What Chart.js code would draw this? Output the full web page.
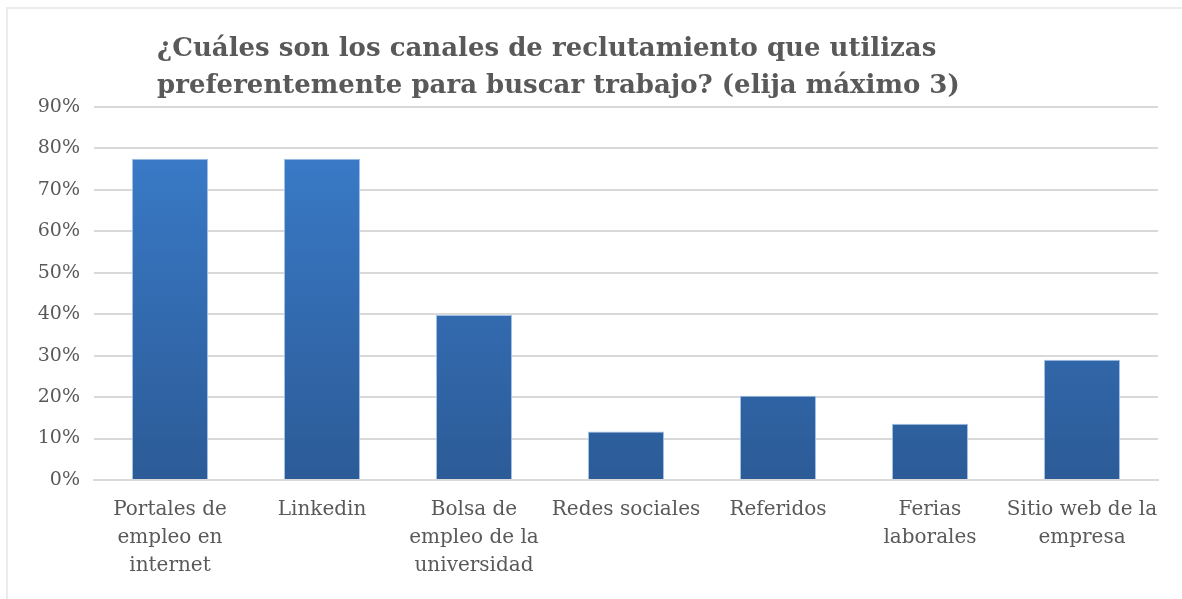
<!DOCTYPE html>
<html>
<head>
<meta charset="utf-8">
<script src="https://cdn.jsdelivr.net/npm/chart.js@4"></script>
<style>
  html, body { margin: 0; padding: 0; background: #fff; overflow: hidden; }
  #wrap { position: relative; width: 1182px; height: 599px; }
  #frame { position: absolute; left: 6px; top: 7px; width: 1176px; height: 592px;
           border-top: 2px solid #ececec; border-left: 2px solid #ececec; pointer-events: none; }
</style>
</head>
<body>
<div id="wrap">
  <canvas id="chart" width="1182" height="599"></canvas>
  <div id="frame"></div>
</div>
<script>
const titleLines = [
  '¿Cuáles son los canales de reclutamiento que utilizas',
  'preferentemente para buscar trabajo? (elija máximo 3)'
];
const categories = [
  ['Portales de', 'empleo en', 'internet'],
  ['Linkedin'],
  ['Bolsa de', 'empleo de la', 'universidad'],
  ['Redes sociales'],
  ['Referidos'],
  ['Ferias', 'laborales'],
  ['Sitio web de la', 'empresa']
];
const percents = [77.5, 77.5, 39.8, 11.7, 20.3, 13.6, 29.0];
const yTicks = { min: 0, max: 90, step: 10 };

const serif = '"DejaVu Serif", "Liberation Serif", serif';
const grey = '#595959';

// draws the two-line title left aligned like the original
const titlePlugin = {
  id: 'leftTitle',
  afterDraw(chart) {
    const ctx = chart.ctx;
    ctx.save();
    ctx.font = 'bold 26px ' + serif;
    ctx.fillStyle = grey;
    ctx.textAlign = 'left';
    ctx.textBaseline = 'alphabetic';
    titleLines.forEach((t, i) => ctx.fillText(t, 157, 56 + i * 37));
    ctx.restore();
  }
};

function barGradient(ctx) {
  const chart = ctx.chart;
  const area = chart.chartArea;
  if (!area) return '#3a7acb';
  const el = ctx.element;
  const top = el && el.y != null ? el.y : area.top;
  const bottom = chart.scales.y.getPixelForValue(0);
  if (!isFinite(top) || bottom - top < 1) return '#3a7acb';
  const g = chart.ctx.createLinearGradient(0, top, 0, bottom);
  g.addColorStop(0, '#3b7ecd');
  g.addColorStop(1, '#2c5b97');
  return g;
}

new Chart(document.getElementById('chart').getContext('2d'), {
  type: 'bar',
  data: {
    labels: categories,
    datasets: [{
      data: percents,
      backgroundColor: barGradient,
      borderColor: 'rgba(150,185,230,0.9)',
      borderWidth: 1,
      barPercentage: 0.5,
      categoryPercentage: 1
    }]
  },
  plugins: [titlePlugin],
  options: {
    responsive: false,
    animation: false,
    layout: { padding: { left: 8, right: 24, top: 107, bottom: 0 } },
    plugins: { legend: { display: false }, tooltip: { enabled: false }, title: { display: false } },
    scales: {
      x: {
        grid: { display: false, drawTicks: false },
        border: { display: true, color: '#d9d9d9', width: 2 },
        ticks: {
          color: grey, font: { family: serif, size: 20, lineHeight: 1.4 }, padding: 16,
          maxRotation: 0, autoSkip: false
        },
        afterFit(axis) { axis.height = 119; }
      },
      y: {
        min: yTicks.min, max: yTicks.max,
        grid: { color: '#d9d9d9', lineWidth: 2, drawTicks: false },
        border: { display: false },
        ticks: {
          stepSize: yTicks.step, color: grey, padding: 14,
          font: { family: serif, size: 19 },
          callback: v => v + '%'
        },
        afterFit(axis) { axis.width = 86; }
      }
    }
  }
});
</script>
</body>
</html>
